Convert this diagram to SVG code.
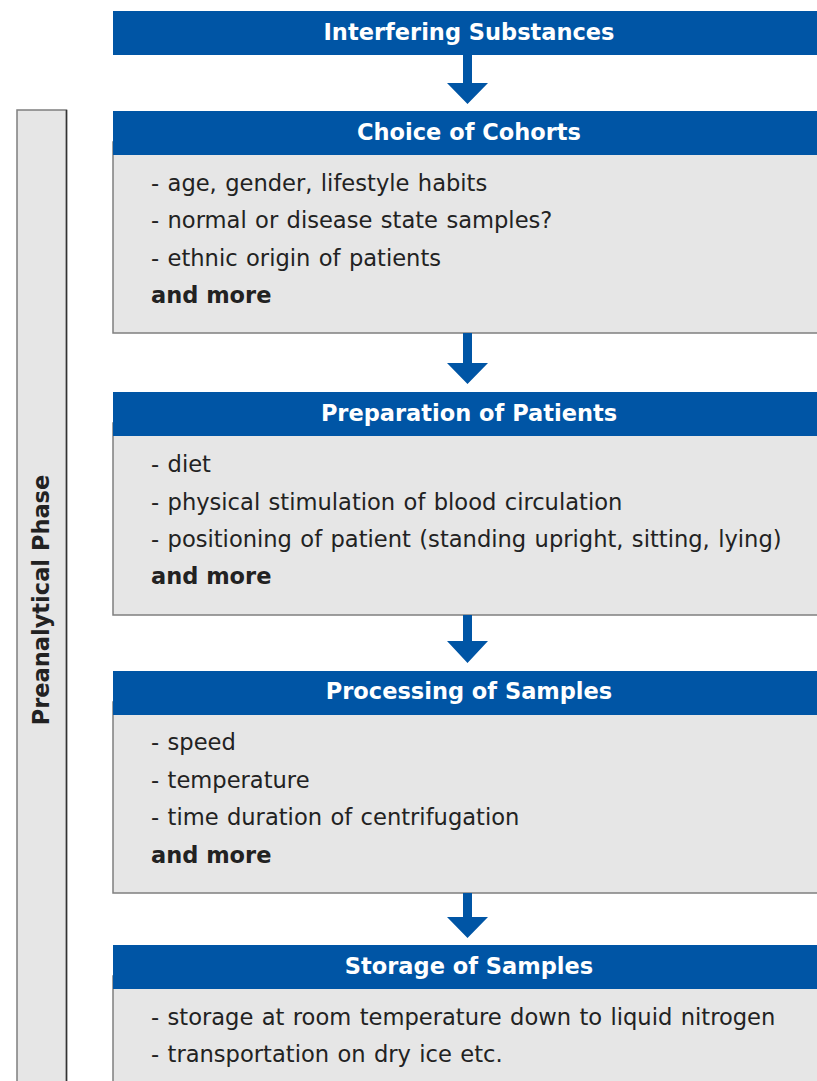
<svg xmlns="http://www.w3.org/2000/svg" width="817" height="1081" viewBox="0 0 817 1081">
<style>
.hdr{fill:#0055a5}
.box{fill:#e6e6e6;stroke:#7f7f7f;stroke-width:1.5}
.ht{font-family:"DejaVu Sans",Verdana,sans-serif;font-weight:bold;font-size:22.5px;fill:#fff;text-anchor:middle}
.bt{font-family:"DejaVu Sans",Verdana,sans-serif;font-size:22.6px;fill:#222;word-spacing:1.2px}
.bb{font-family:"DejaVu Sans",Verdana,sans-serif;font-size:22.5px;font-weight:bold;fill:#222}
.arr{fill:#0055a5}
</style>
<rect width="817" height="1081" fill="#fff"/>
<g id="phase">
<rect x="17" y="110" width="49.5" height="980" fill="#e6e6e6" stroke="#7f7f7f" stroke-width="1.5"/>
<line x1="66.5" y1="110" x2="66.5" y2="1081" stroke="#333" stroke-width="1.5"/>
<text transform="translate(49,600) rotate(-90)" class="bb" text-anchor="middle">Preanalytical Phase</text>
</g>
<g id="interfering">
<rect class="hdr" x="113" y="11" width="710" height="44"/>
<text class="ht" x="469" y="40">Interfering Substances</text>
</g>
<g id="cohorts">
<rect class="box" x="113" y="142" width="720" height="191"/>
<rect class="hdr" x="113" y="111" width="710" height="44"/>
<text class="ht" x="469" y="140">Choice of Cohorts</text>
<text class="bt" x="151" y="191">- age, gender, lifestyle habits</text>
<text class="bt" x="151" y="228">- normal or disease state samples?</text>
<text class="bt" x="151" y="266">- ethnic origin of patients</text>
<text class="bb" x="151" y="303">and more</text>
</g>
<g id="preparation">
<rect class="box" x="113" y="423" width="720" height="192"/>
<rect class="hdr" x="113" y="392" width="710" height="44"/>
<text class="ht" x="469" y="421">Preparation of Patients</text>
<text class="bt" x="151" y="472">- diet</text>
<text class="bt" x="151" y="510">- physical stimulation of blood circulation</text>
<text class="bt" x="151" y="547">- positioning of patient (standing upright, sitting, lying)</text>
<text class="bb" x="151" y="584">and more</text>
</g>
<g id="processing">
<rect class="box" x="113" y="702" width="720" height="191"/>
<rect class="hdr" x="113" y="671" width="710" height="44"/>
<text class="ht" x="469" y="699">Processing of Samples</text>
<text class="bt" x="151" y="750">- speed</text>
<text class="bt" x="151" y="788">- temperature</text>
<text class="bt" x="151" y="825">- time duration of centrifugation</text>
<text class="bb" x="151" y="863">and more</text>
</g>
<g id="storage">
<rect class="box" x="113" y="976" width="720" height="120"/>
<rect class="hdr" x="113" y="945" width="710" height="44"/>
<text class="ht" x="469" y="974">Storage of Samples</text>
<text class="bt" x="151" y="1025">- storage at room temperature down to liquid nitrogen</text>
<text class="bt" x="151" y="1062">- transportation on dry ice etc.</text>
</g>
<g id="connectors">
<path class="arr" d="M463,55 H472 V83 H488 L467.5,104 L447,83 H463 Z"/>
<path class="arr" d="M463,333 H472 V363 H488 L467.5,384 L447,363 H463 Z"/>
<path class="arr" d="M463,615 H472 V641 H488 L467.5,663 L447,641 H463 Z"/>
<path class="arr" d="M463,893 H472 V917 H488 L467.5,938 L447,917 H463 Z"/>
</g>
</svg>
